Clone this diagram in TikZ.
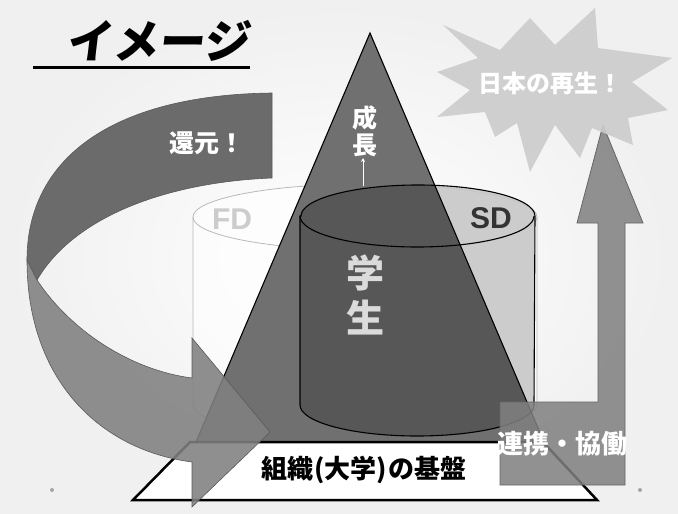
\documentclass[tikz,border=0pt]{standalone}
\usepackage{fontspec}
\usetikzlibrary{arrows.meta}
\newfontfamily\jp{Noto Sans CJK JP}
\newfontfamily\jptitle{Noto Sans CJK JP}[FakeSlant=0.12]
\newfontfamily\lat{Liberation Sans}
\definecolor{bandDark}{gray}{0.42}
\definecolor{bandLight}{gray}{0.50}
\definecolor{bandEdge}{gray}{0.35}
\definecolor{triC}{gray}{0.44}
\definecolor{cylLight}{gray}{0.78}
\definecolor{cylDark}{gray}{0.34}
\definecolor{arrC}{gray}{0.50}
\definecolor{burstC}{gray}{0.80}
\definecolor{fdC}{gray}{0.80}
\definecolor{sdC}{gray}{0.20}
\definecolor{gakuC}{gray}{0.86}
\begin{document}
\begin{tikzpicture}[x=1pt,y=-1pt,
  lbl/.style={inner sep=0pt, outer sep=0pt},
  jpw/.style={lbl, text=white, font=\jp\bfseries},
  band/.style={draw=bandEdge, line width=0.6pt},
  tri/.style={fill=triC},
  triedge/.style={draw=black, line width=1.1pt},
  fdcyl/.style={fill=white, fill opacity=0.6, draw=gray!55, line width=0.8pt},
  stcylL/.style={fill=cylLight, fill opacity=0.9},
  stcylD/.style={fill=cylDark},
  stedge/.style={draw=black, line width=1.1pt},
  bentarrow/.style={fill=arrC, fill opacity=0.86, draw=gray!80!black, line width=0.8pt},
  burst/.style={fill=burstC, fill opacity=0.9},
  base/.style={fill=white, draw=black, line width=2.5pt},
  dotc/.style={fill=gray!70, draw=none}]
\useasboundingbox (0,0) rectangle (678,514);
\shade[inner color=white, outer color=gray!12] (0,0) rectangle (678,514);

% title
\node[lbl, font=\jptitle\bfseries\fontsize{46}{46}\selectfont] (title) at (158,41) {イメージ};
\coordinate (ulA) at (33,67);
\coordinate (ulB) at (250,67);
\draw[line width=3pt] (ulA) -- (ulB);

% FD cylinder
\path[fdcyl] (193,217) -- (193,405) arc[start angle=180, end angle=0, x radius=172, y radius=33] -- (537,217) arc[start angle=0, end angle=-180, x radius=172, y radius=33] -- cycle;
\draw[gray!55, line width=0.8pt] (193,217) arc[start angle=180, end angle=0, x radius=172, y radius=33];
\node[lbl, text=fdC, font=\lat\bfseries\fontsize{30}{30}\selectfont] (fd) at (232,219) {FD};

% upper band of curved arrow
\path[band, fill=bandDark] (272,93) .. controls (110,95) and (27,160) .. (27,260) -- (37,280) .. controls (75,215) and (170,182) .. (272,178) -- cycle;
\node[jpw, font=\jp\bfseries\fontsize{25}{25}\selectfont] (kangen) at (207,143) {還元！};

% pyramid
\path[tri] (370,33) -- (544,442) -- (196,442) -- cycle;

% student cylinder: light outside pyramid, dark inside
\path[stcylL] (300,216) -- (300,405) arc[start angle=180, end angle=0, x radius=117, y radius=31] -- (535,216) arc[start angle=0, end angle=-180, x radius=117, y radius=31] -- cycle;
\begin{scope}
\clip (370,33) -- (544,442) -- (196,442) -- cycle;
\path[stcylD] (300,216) -- (300,405) arc[start angle=180, end angle=0, x radius=117, y radius=31] -- (535,216) arc[start angle=0, end angle=-180, x radius=117, y radius=31] -- cycle;
\end{scope}
\path[stedge] (300,216) -- (300,405) arc[start angle=180, end angle=0, x radius=117, y radius=31] -- (535,216) arc[start angle=0, end angle=-180, x radius=117, y radius=31] -- cycle;
\draw[stedge] (300,216) arc[start angle=180, end angle=0, x radius=117, y radius=31];
\path[triedge] (370,33) -- (544,442) -- (196,442) -- cycle;
\node[lbl, text=sdC, font=\lat\bfseries\fontsize{30}{30}\selectfont] (sd) at (491,218) {SD};

% texts in pyramid
\node[jpw, font=\jp\bfseries\fontsize{25}{25}\selectfont] (sei) at (365,118) {成};
\node[jpw, font=\jp\bfseries\fontsize{25}{25}\selectfont] (cho) at (365,145) {長};
\coordinate (growBase) at (363,186);
\draw[white, line width=0.9pt, -{Stealth[length=4pt,width=4pt]}] (growBase) -- (363,158);
\node[lbl, text=gakuC, font=\jp\bfseries\fontsize{38}{38}\selectfont] (gaku) at (365,273) {学};
\node[lbl, text=gakuC, font=\jp\bfseries\fontsize{38}{38}\selectfont] (sei2) at (365,318) {生};

% base
\path[base] (133,500) -- (190,442) -- (543,442) -- (597,500) -- cycle;
\node[lbl, font=\jp\bfseries\fontsize{26}{26}\selectfont] (kiban) at (364,470) {組織\kern1pt(大学)\kern1pt の基盤};

% lower band + head of curved arrow
\path[band, fill=bandLight, fill opacity=0.88] (27,260) .. controls (27,380) and (100,450) .. (192,462) -- (192,507) -- (270,432) -- (192,338) -- (192,378) .. controls (130,370) and (70,330) .. (37,280) -- cycle;

% bent-up arrow
\path[bentarrow] (500,402) -- (598,402) -- (598,223) -- (577,223) -- (603,125) -- (643,223) -- (625,223) -- (625,485) -- (500,485) -- cycle;
\node[jpw, font=\jp\bfseries\fontsize{26}{26}\selectfont] (renkei) at (562,444) {連携・協働};

% starburst
\path[burst] (443,25) -- (500,50) -- (530,18) -- (555,45) -- (595,8) -- (598,48) -- (672,58) -- (632,82) -- (668,110) -- (628,118) -- (633,145) -- (592,128) -- (580,158) -- (555,125) -- (530,172) -- (517,123) -- (495,137) -- (485,112) -- (437,117) -- (470,90) -- (437,72) -- (478,58) -- cycle;
\node[jpw, font=\jp\bfseries\fontsize{24}{24}\selectfont] (saisei) at (550,83) {日本の再生！};

% dots
\fill[dotc] (52,490) circle[radius=2];
\fill[dotc] (640,490) circle[radius=2];
\end{tikzpicture}
\end{document}
